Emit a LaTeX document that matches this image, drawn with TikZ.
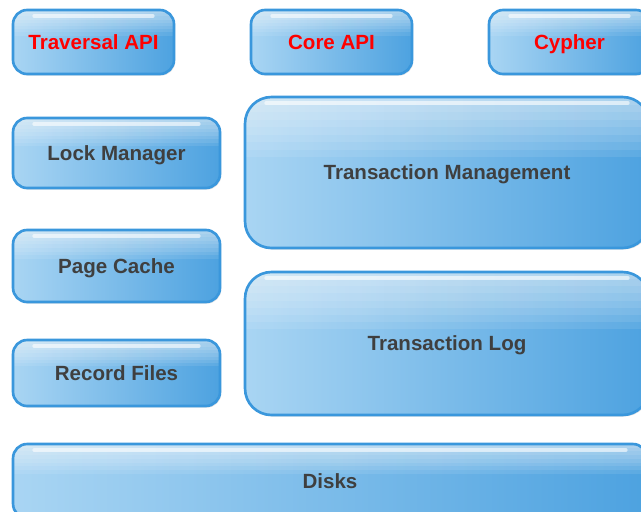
\documentclass[tikz,border=0pt]{standalone}
\usepackage{fontspec}
\setsansfont{Liberation Sans}
\usetikzlibrary{shadows,calc}

\definecolor{boxedge}{HTML}{3A97DC}
\definecolor{boxlight}{HTML}{A9D5F3}
\definecolor{boxdark}{HTML}{4DA2E0}
\definecolor{labelgray}{HTML}{3F3F3F}
\definecolor{apired}{HTML}{FF0000}

\tikzset{
  glass/.style={draw=boxedge, line width=1.5pt, rounded corners=8pt,
    left color=boxlight, right color=boxdark, inner sep=0pt, outer sep=0pt,
    drop shadow={opacity=0.22, shadow xshift=0.7pt, shadow yshift=-0.9pt},
    font=\sffamily\bfseries\fontsize{11.7}{13}\selectfont, text=labelgray,
    text height=8.4pt, text depth=0pt,
    path picture={
      \foreach \f in {0.05,0.1,...,0.41}
        \fill[sharp corners, white, opacity=0.09] (path picture bounding box.north west)
          rectangle ($(path picture bounding box.north east)!\f!(path picture bounding box.south east)$);
      \draw[white, opacity=0.6, line width=2pt, line cap=round]
        ([shift={(12pt,-3.5pt)}]path picture bounding box.north west) --
        ([shift={(-12pt,-3.5pt)}]path picture bounding box.north east);
    }},
  bigglass/.style={glass, rounded corners=15pt},
  api/.style={text=apired}
}

\begin{document}
\begin{tikzpicture}[x=0.02cm,y=-0.02cm]
\useasboundingbox (0,0) rectangle (641,511);
\clip (0,0) rectangle (641,511);

% top row
\node[glass, api, minimum width=3.22cm, minimum height=1.28cm] (trav) at (93.5,42) {Traversal API};
\node[glass, api, minimum width=3.22cm, minimum height=1.28cm] (core) at (331.5,42) {Core API};
\node[glass, api, minimum width=3.22cm, minimum height=1.28cm] (cypher) at (569.5,42) {Cypher};

% left column
\node[glass, minimum width=4.14cm, minimum height=1.40cm] (lock) at (116.5,153) {Lock Manager};
\node[glass, minimum width=4.14cm, minimum height=1.44cm] (cache) at (116.5,266) {Page Cache};
\node[glass, minimum width=4.14cm, minimum height=1.32cm] (record) at (116.5,373) {Record Files};

% right column
\node[bigglass, minimum width=8.08cm, minimum height=3.02cm] (txmgmt) at (447,172.5) {Transaction Management};
\node[bigglass, minimum width=8.08cm, minimum height=2.86cm] (txlog) at (447,343.5) {Transaction Log};

% bottom
\node[glass, minimum width=12.68cm, minimum height=1.48cm] (disks) at (330,481) {Disks};

\end{tikzpicture}
\end{document}
